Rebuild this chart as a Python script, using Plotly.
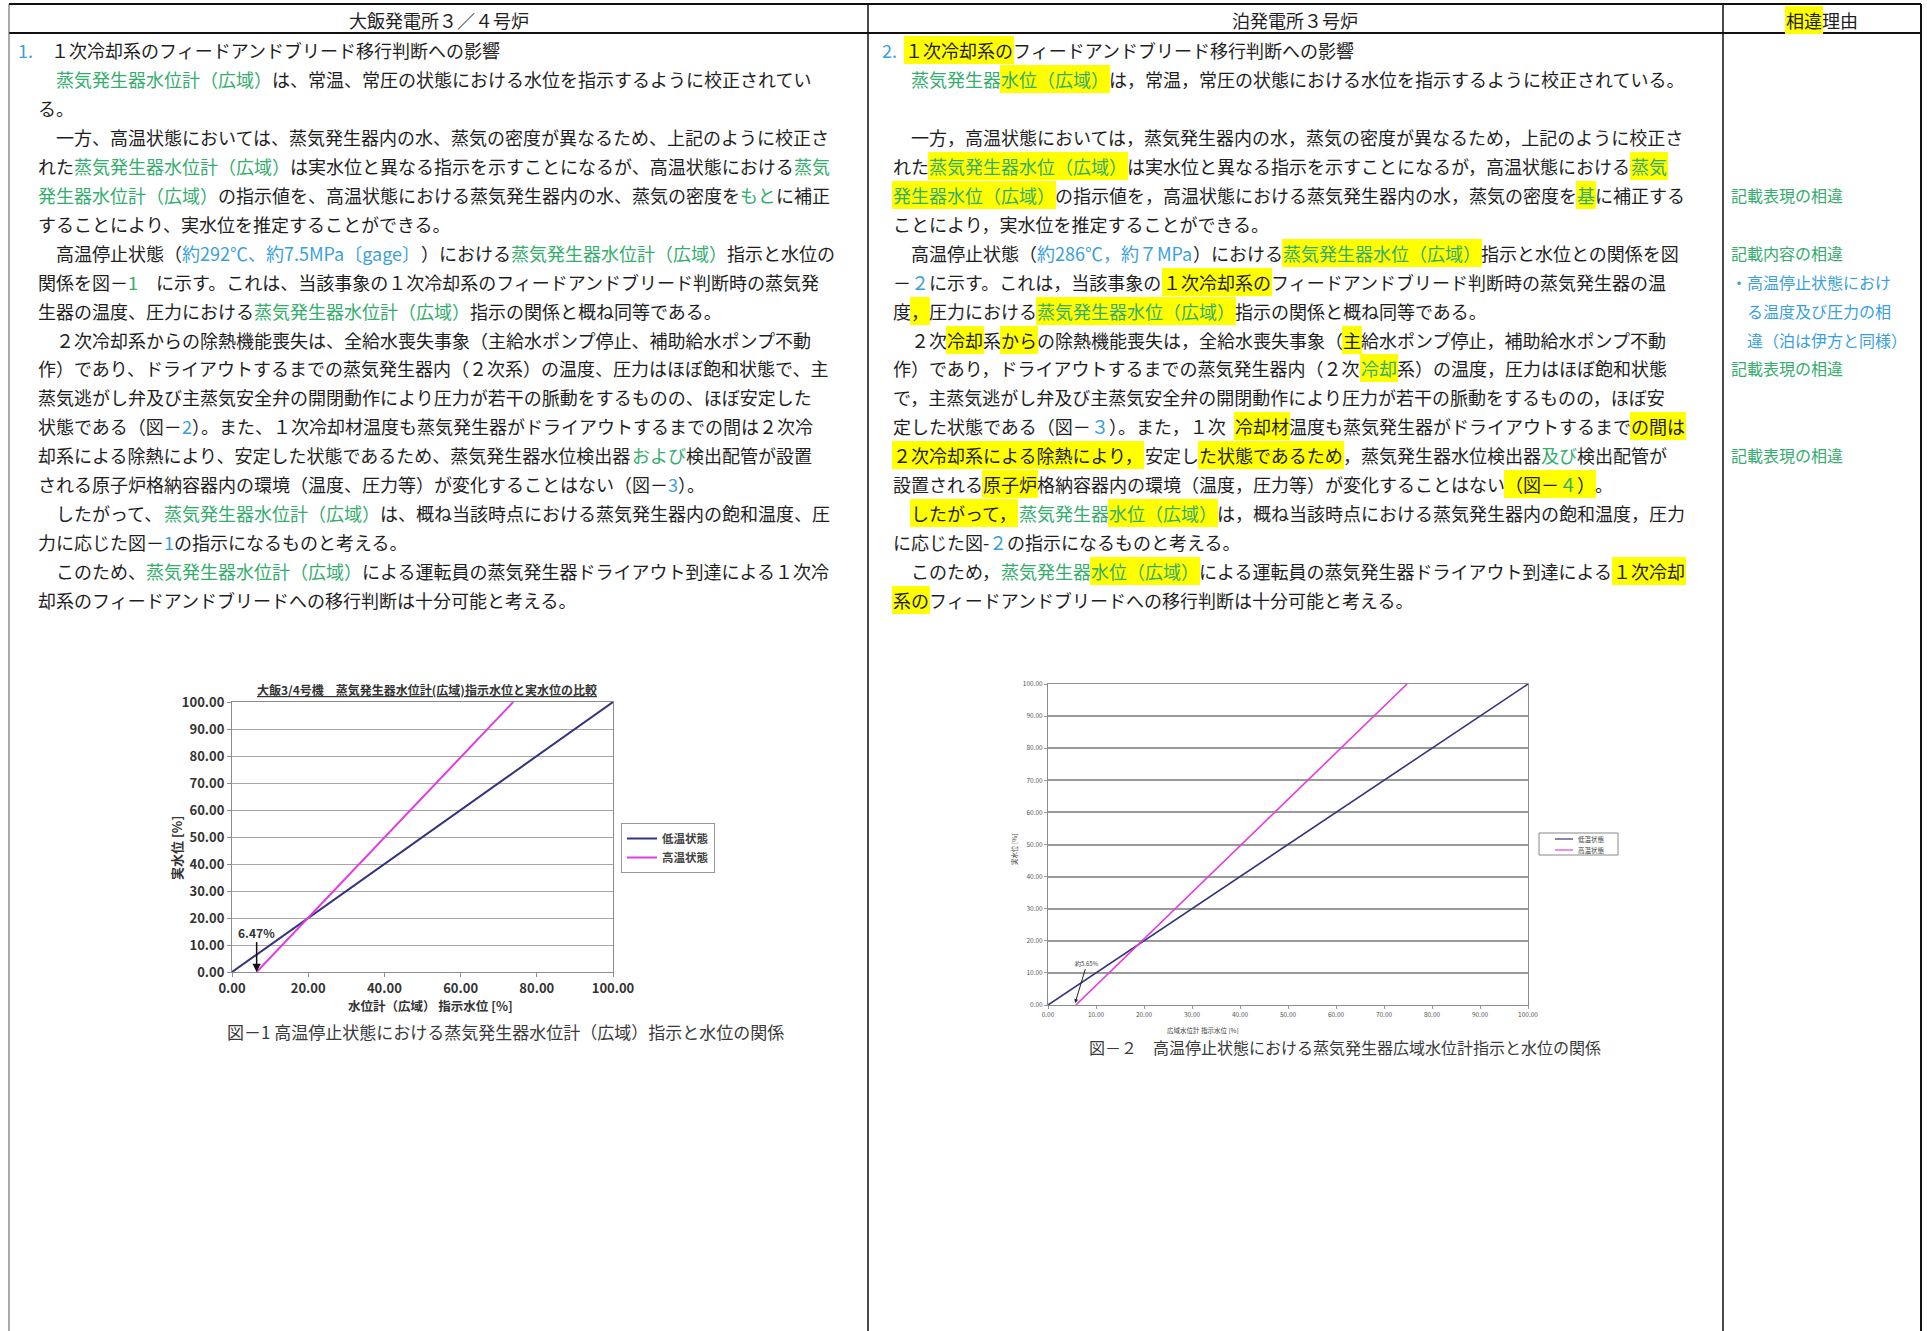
import re
import plotly.graph_objects as go

W, H = 1927, 1331
FONT = "Noto Sans CJK JP"

# ---------------- chart data ----------------
series_names = ["低温状態", "高温状態"]

left_low_x = [0.0, 100.0]
left_low_y = [0.0, 100.0]
left_high_x = [6.47, 73.8]
left_high_y = [0.0, 100.0]
left_marker_x = 6.47
left_marker_label = "6.47%"

right_low_x = [0.0, 100.0]
right_low_y = [0.0, 100.0]
right_high_x = [5.8, 74.8]
right_high_y = [0.0, 100.0]
right_marker_x = 5.65
right_marker_label = "約5.65%"

left_title = "大飯3/4号機　蒸気発生器水位計(広域)指示水位と実水位の比較"
left_xtitle = "水位計（広域） 指示水位 [%]"
left_ytitle = "実水位 [%]"
right_xtitle = "広域水位計 指示水位 [%]"
right_ytitle = "実水位 [%]"
left_caption = "図－1 高温停止状態における蒸気発生器水位計（広域）指示と水位の関係"
right_caption = "図－２　高温停止状態における蒸気発生器広域水位計指示と水位の関係"

headers = ["大飯発電所３／４号炉", "泊発電所３号炉", "<h>相違</>理由"]

left_lines = [
    "<b>1.</>　１次冷却系のフィードアンドブリード移行判断への影響",
    "　<g>蒸気発生器水位計（広域）</>は、常温、常圧の状態における水位を指示するように校正されてい",
    "る。",
    "　一方、高温状態においては、蒸気発生器内の水、蒸気の密度が異なるため、上記のように校正さ",
    "れた<g>蒸気発生器水位計（広域）</>は実水位と異なる指示を示すことになるが、高温状態における<g>蒸気</>",
    "<g>発生器水位計（広域）</>の指示値を、高温状態における蒸気発生器内の水、蒸気の密度を<g>もと</>に補正",
    "することにより、実水位を推定することができる。",
    "　高温停止状態（<b>約292℃、約7.5MPa〔gage〕</>）における<g>蒸気発生器水位計（広域）</>指示と水位の",
    "関係を図－<g>1</>　に示す。これは、当該事象の１次冷却系のフィードアンドブリード判断時の蒸気発",
    "生器の温度、圧力における<g>蒸気発生器水位計（広域）</>指示の関係と概ね同等である。",
    "　２次冷却系からの除熱機能喪失は、全給水喪失事象（主給水ポンプ停止、補助給水ポンプ不動",
    "作）であり、ドライアウトするまでの蒸気発生器内（２次系）の温度、圧力はほぼ飽和状態で、主",
    "蒸気逃がし弁及び主蒸気安全弁の開閉動作により圧力が若干の脈動をするものの、ほぼ安定した",
    "状態である（図－<b>2</>）。また、１次冷却材温度も蒸気発生器がドライアウトするまでの間は２次冷",
    "却系による除熱により、安定した状態であるため、蒸気発生器水位検出器<g>および</>検出配管が設置",
    "される原子炉格納容器内の環境（温度、圧力等）が変化することはない（図－<b>3</>）。",
    "　したがって、<g>蒸気発生器水位計（広域）</>は、概ね当該時点における蒸気発生器内の飽和温度、圧",
    "力に応じた図－<b>1</>の指示になるものと考える。",
    "　このため、<g>蒸気発生器水位計（広域）</>による運転員の蒸気発生器ドライアウト到達による１次冷",
    "却系のフィードアンドブリードへの移行判断は十分可能と考える。",
]

right_lines = [
    "<b>2.</>  <h>１次冷却系の</>フィードアンドブリード移行判断への影響",
    "　<g>蒸気発生器</><hg>水位（広域）</>は，常温，常圧の状態における水位を指示するように校正されている。",
    "",
    "　一方，高温状態においては，蒸気発生器内の水，蒸気の密度が異なるため，上記のように校正さ",
    "れた<hg>蒸気発生器水位（広域）</>は実水位と異なる指示を示すことになるが，高温状態における<hg>蒸気</>",
    "<hg>発生器水位（広域）</>の指示値を，高温状態における蒸気発生器内の水，蒸気の密度を<hg>基</>に補正する",
    "ことにより，実水位を推定することができる。",
    "　高温停止状態（<b>約286℃，約７MPa</>）における<hg>蒸気発生器水位（広域）</>指示と水位との関係を図",
    "－<b>２</>に示す。これは，当該事象の<h>１次冷却系の</>フィードアンドブリード判断時の蒸気発生器の温",
    "度<h>，</>圧力における<hg>蒸気発生器水位（広域）</>指示の関係と概ね同等である。",
    "　２次<h>冷却</>系<h>から</>の除熱機能喪失は，全給水喪失事象（<h>主</>給水ポンプ停止，補助給水ポンプ不動",
    "作）であり，ドライアウトするまでの蒸気発生器内（２次<hg>冷却</>系）の温度，圧力はほぼ飽和状態",
    "で，主蒸気逃がし弁及び主蒸気安全弁の開閉動作により圧力が若干の脈動をするものの，ほぼ安",
    "定した状態である（図－<b>３</>）。また，１次<h>冷却材</>温度も蒸気発生器がドライアウトするまで<h>の間は</>",
    "<h>２次冷却系による除熱により，</>安定し<h>た状態であるため</>，蒸気発生器水位検出器<g>及び</>検出配管が",
    "設置される<h>原子炉</>格納容器内の環境（温度，圧力等）が変化することはない<h>（図－</><hg>４</><h>）</>。",
    "　<h>したがって，</><g>蒸気発生器</><hg>水位（広域）</>は，概ね当該時点における蒸気発生器内の飽和温度，圧力",
    "に応じた図-<b>２</>の指示になるものと考える。",
    "　このため，<g>蒸気発生器</><hg>水位（広域）</>による運転員の蒸気発生器ドライアウト到達による<h>１次冷却</>",
    "<h>系の</>フィードアンドブリードへの移行判断は十分可能と考える。",
]

reason_rows = [5, 7, 8, 9, 10, 11, 14]
reason_lines = [
    "<g>記載表現の相違</>",
    "<g>記載内容の相違</>",
    "<b>・高温停止状態におけ</>",
    "<b>　る温度及び圧力の相</>",
    "<b>　違（泊は伊方と同様）</>",
    "<g>記載表現の相違</>",
    "<g>記載表現の相違</>",
]

# ---------------- styling ----------------
BLACK = "#1e1e1e"
GREEN = "#33ad6c"
BLUE = "#3a9fdc"
YELLOW = "#ffff00"
NAVY = "#34347e"
MAGENTA = "#e23ce0"

STYLE = {
    "n": (BLACK, None), "g": (GREEN, None), "b": (BLUE, None),
    "h": (BLACK, YELLOW), "hg": (GREEN, YELLOW), "hb": (BLUE, YELLOW),
}
HALF = {".": 0.27, "M": 0.84, "P": 0.62, "a": 0.55, "g": 0.56, "e": 0.55,
        " ": 0.22, "-": 0.34, "%": 0.9, "/": 0.4, "(": 0.33, ")": 0.33}


def px(x):
    return x / W


def py(y):
    return 1 - y / H


def adv(ch, fs):
    if ch in HALF:
        f = HALF[ch]
    elif ord(ch) < 128:
        f = 0.555
    else:
        f = 1.0
    return round(f * fs)


def parse(markup):
    segs, style = [], "n"
    for t in re.split(r"(<[a-z]+>|</>)", markup):
        if not t:
            continue
        if t == "</>":
            style = "n"
        elif re.fullmatch(r"<[a-z]+>", t):
            style = t[1:-1]
        else:
            segs.append((t, style))
    return segs


annotations = []
shapes = []


def add_line(markup, x0, yc, fs):
    cur = x0
    for text, st in parse(markup):
        color, bg = STYLE[st]
        i = 0
        while i < len(text) and text[i] in " 　":
            cur += adv(text[i], fs)
            i += 1
        j = len(text)
        trail = 0
        while j > i and text[j - 1] in " 　":
            trail += adv(text[j - 1], fs)
            j -= 1
        body = text[i:j]
        if body:
            pad = 1 if bg else 0
            annotations.append(dict(
                xref="paper", yref="paper", x=px(cur - pad), y=py(yc),
                xanchor="left", yanchor="middle", showarrow=False,
                text=body, font=dict(family=FONT, size=fs, color=color),
                bgcolor=bg if bg else "rgba(0,0,0,0)", borderpad=pad, borderwidth=0,
            ))
            cur += sum(adv(c, fs) for c in body)
        cur += trail


FS = 18
LINE0, LSTEP = 50, 28.95

# headers
annotations.append(dict(xref="paper", yref="paper", x=px(439), y=py(20), xanchor="center",
                        yanchor="middle", showarrow=False, text=headers[0],
                        font=dict(family=FONT, size=FS, color=BLACK)))
annotations.append(dict(xref="paper", yref="paper", x=px(1295), y=py(20), xanchor="center",
                        yanchor="middle", showarrow=False, text=headers[1],
                        font=dict(family=FONT, size=FS, color=BLACK)))
add_line(headers[2], 1822 - 2 * FS, 20, FS)

for i, ln in enumerate(left_lines):
    if ln:
        add_line(ln, 18 if i == 0 else 38, LINE0 + i * LSTEP, FS)
for i, ln in enumerate(right_lines):
    if ln:
        add_line(ln, 882 if i == 0 else 893, LINE0 + i * LSTEP, FS)
for r, ln in zip(reason_rows, reason_lines):
    add_line(ln, 1731, LINE0 + r * LSTEP, 16)


# table lines
def hline(y, x0, x1, w, c="#111"):
    shapes.append(dict(type="line", xref="paper", yref="paper", x0=px(x0), x1=px(x1),
                       y0=py(y), y1=py(y), line=dict(color=c, width=w)))


def vline(x, y0, y1, w, c="#111"):
    shapes.append(dict(type="line", xref="paper", yref="paper", x0=px(x), x1=px(x),
                       y0=py(y0), y1=py(y1), line=dict(color=c, width=w)))


hline(4, 9, 1921, 2)
hline(33, 9, 1921, 2)
vline(9, 4, H, 1, "#555")
vline(868, 4, H, 1.5)
vline(1723, 4, H, 1.5)
vline(1921, 4, H, 2)

# ---------------- charts ----------------
fig = go.Figure()
fig.add_trace(go.Scatter(x=left_low_x, y=left_low_y, mode="lines", name=series_names[0],
                         line=dict(color=NAVY, width=2), xaxis="x", yaxis="y"))
fig.add_trace(go.Scatter(x=left_high_x, y=left_high_y, mode="lines", name=series_names[1],
                         line=dict(color=MAGENTA, width=2), xaxis="x", yaxis="y"))
fig.add_trace(go.Scatter(x=right_low_x, y=right_low_y, mode="lines", name=series_names[0],
                         line=dict(color=NAVY, width=1.6), xaxis="x2", yaxis="y2",
                         showlegend=False))
fig.add_trace(go.Scatter(x=right_high_x, y=right_high_y, mode="lines", name=series_names[1],
                         line=dict(color=MAGENTA, width=1.6), xaxis="x2", yaxis="y2",
                         showlegend=False))

ax_left = dict(range=[0, 100], showline=True, mirror=True, linecolor="#8c8c8c", linewidth=1,
               ticks="outside", ticklen=4, tickcolor="#8c8c8c", tickformat=".2f",
               zeroline=False, automargin=False,
               tickfont=dict(family=FONT, size=13, color="#333", weight="bold"))
ax_right = dict(range=[0, 100], showline=True, mirror=True, linecolor="#8c8c8c", linewidth=1,
                ticks="outside", ticklen=3, tickcolor="#999", tickformat=".2f",
                zeroline=False, dtick=10, automargin=False,
                tickfont=dict(family=FONT, size=6.5, color="#555"))

# chart annotations
annotations += [
    dict(xref="paper", yref="paper", x=px(427), y=py(689), xanchor="center", yanchor="middle",
         showarrow=False, text=left_title,
         font=dict(family=FONT, size=12, color="#333", weight="bold", lineposition="under")),
    dict(xref="paper", yref="paper", x=px(176), y=py(848), xanchor="center", yanchor="middle",
         showarrow=False, text=left_ytitle, textangle=-90,
         font=dict(family=FONT, size=13, color="#333", weight="bold")),
    dict(xref="paper", yref="paper", x=px(430), y=py(1006), xanchor="center", yanchor="middle",
         showarrow=False, text=left_xtitle,
         font=dict(family=FONT, size=12.5, color="#333", weight="bold")),
    dict(xref="x", yref="y", x=left_marker_x, y=0, ax=0, ay=-40, showarrow=True,
         arrowhead=2, arrowsize=1.1, arrowwidth=1.5, arrowcolor="#111", text=left_marker_label,
         font=dict(family=FONT, size=12, color="#333", weight="bold")),
    dict(xref="paper", yref="paper", x=px(225), y=py(1031), xanchor="left", yanchor="middle",
         showarrow=False, text=left_caption, font=dict(family=FONT, size=17, color="#3a3a3a")),
    dict(xref="paper", yref="paper", x=px(1014), y=py(850), xanchor="center", yanchor="middle",
         showarrow=False, text=right_ytitle, textangle=-90,
         font=dict(family=FONT, size=6.5, color="#444")),
    dict(xref="paper", yref="paper", x=px(1203), y=py(1030), xanchor="center", yanchor="middle",
         showarrow=False, text=right_xtitle, font=dict(family=FONT, size=6.5, color="#444")),
    dict(xref="x2", yref="y2", x=right_marker_x, y=0.6, ax=12, ay=-40, showarrow=True,
         arrowhead=2, arrowsize=0.8, arrowwidth=1, arrowcolor="#222", text=right_marker_label,
         font=dict(family=FONT, size=6, color="#444")),
    dict(xref="paper", yref="paper", x=px(1087), y=py(1047), xanchor="left", yanchor="middle",
         showarrow=False, text=right_caption, font=dict(family=FONT, size=16, color="#3a3a3a")),
]

# right chart legend (small, drawn manually)
shapes.append(dict(type="rect", xref="paper", yref="paper", x0=px(1539), x1=px(1618),
                   y0=py(855), y1=py(833), line=dict(color="#888", width=1), fillcolor="white"))
for k, (yy, col) in enumerate([(839, NAVY), (850, MAGENTA)]):
    hline(yy, 1555, 1573, 1.2, col)
    annotations.append(dict(xref="paper", yref="paper", x=px(1576), y=py(yy), xanchor="left",
                            yanchor="middle", showarrow=False, text=series_names[k],
                            font=dict(family=FONT, size=6.5, color="#444")))

fig.update_layout(
    template="none",
    width=W, height=H, autosize=False,
    margin=dict(l=0, r=0, t=0, b=0, pad=0, autoexpand=False),
    font=dict(family=FONT, color="#333"),
    paper_bgcolor="white", plot_bgcolor="white",
    xaxis=dict(ax_left, domain=[px(232), px(613)], anchor="y", dtick=20, showgrid=False),
    yaxis=dict(ax_left, domain=[py(972), py(702)], anchor="x", dtick=10, showgrid=True,
               gridcolor="#a6a6a6", gridwidth=1),
    xaxis2=dict(ax_right, domain=[px(1048), px(1528)], anchor="y2", showgrid=False),
    yaxis2=dict(ax_right, domain=[py(1005), py(684)], anchor="x2", showgrid=True,
                gridcolor="#9a9a9a", gridwidth=1.5),
    legend=dict(x=px(621), y=py(823), xanchor="left", yanchor="top", bordercolor="#999",
                borderwidth=1, bgcolor="white", tracegroupgap=0, itemwidth=30,
                font=dict(family=FONT, size=11.5, color="#444", weight="bold")),
    annotations=annotations,
    shapes=shapes,
    showlegend=True,
)

fig.write_html(
    "out.html",
    config={"displayModeBar": False},
    post_script="document.body.style.margin='0';document.body.style.overflow='hidden';",
)
